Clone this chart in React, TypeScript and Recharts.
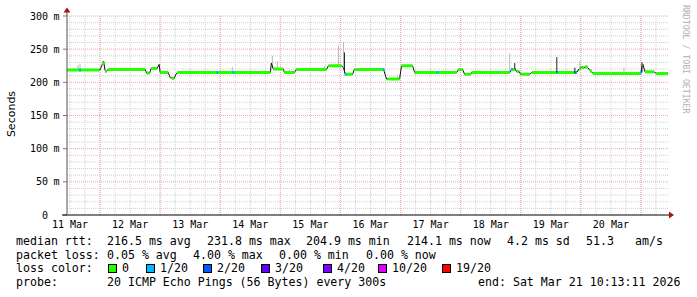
import React from 'react';
import { ComposedChart, Line, XAxis, YAxis, CartesianGrid } from 'recharts';

const MONO = '"DejaVu Sans Mono", monospace';

// time axis: hours since 11 Mar 00:00
const T_START = 10.8;
const T_END = 250.8;

const X_TICKS = [12, 36, 60, 84, 108, 132, 156, 180, 204, 228];
const X_TICK_LABELS = ['11 Mar', '12 Mar', '13 Mar', '14 Mar', '15 Mar', '16 Mar', '17 Mar', '18 Mar', '19 Mar', '20 Mar'];
const Y_TICKS = [0, 50, 100, 150, 200, 250, 300];
const Y_TICK_LABELS = ['0', '50', '100', '150', '200', '250', '300'];

const MINOR_T = [12, 18, 24, 30, 36, 42, 48, 54, 60, 66, 72, 78, 84, 90, 96, 102, 108, 114, 120, 126, 132, 138, 144, 150, 156, 162, 168, 174, 180, 186, 192, 198, 204, 210, 216, 222, 228, 234, 240, 246];
const MAJOR_T = [24, 48, 72, 96, 120, 144, 168, 192, 216, 240];
const MINOR_MS = [10, 20, 30, 40, 60, 70, 80, 90, 110, 120, 130, 140, 160, 170, 180, 190, 210, 220, 230, 240, 260, 270, 280, 290];
const MAJOR_MS = [50, 100, 150, 200, 250, 300];

// median rtt (ms) - thin dark line
const MEDIAN_T = [10.8, 23.6, 24.0, 24.8, 25.4, 26.0, 26.4, 27.2, 42.0, 42.6, 43.8, 44.4, 46.8, 47.6, 48.0, 51.2, 52.0, 53.6, 54.4, 55.2, 92.0, 92.4, 93.2, 97.2, 97.6, 101.6, 102.4, 114.4, 115.2, 120.4, 121.2, 122.0, 124.8, 125.6, 137.2, 138.4, 143.6, 144.4, 148.8, 149.6, 166.4, 167.2, 168.8, 169.6, 172.0, 172.4, 187.6, 188.4, 189.6, 190.4, 191.2, 192.0, 195.6, 196.4, 214.4, 215.2, 216.4, 217.2, 218.0, 218.8, 219.6, 220.8, 240.0, 240.4, 240.8, 241.6, 245.2, 246.0, 250.8];
const MEDIAN_MS = [218.5, 218.5, 219, 226, 232, 218, 216, 219.5, 219.5, 214, 214, 221, 221, 227, 215, 215, 207, 206, 213, 215, 215, 229, 220, 220, 215, 215, 219.5, 219.5, 225, 225, 222, 212, 212, 219.5, 219.5, 205, 205, 225, 225, 215, 215, 219.5, 219, 212, 212, 215, 215, 219.5, 221, 216, 217, 212, 212, 215, 215, 220, 223, 221, 225, 222, 218, 214, 214, 224, 227, 216, 216, 213.5, 213.5];

// plateaus of the loss-coloured median: [from, to, ms]
const GREEN_SEGMENTS: [number, number, number][] = [
  [10.8, 23.6, 218.5], [24.8, 25.8, 229], [26.0, 26.6, 216.5], [27.2, 42.0, 219.5], [42.6, 43.8, 214],
  [44.4, 46.8, 221], [48.0, 51.2, 215], [52.6, 53.6, 206], [54.8, 92.0, 215], [93.2, 97.2, 220],
  [97.6, 101.6, 215], [102.4, 114.4, 219.5], [115.2, 120.4, 225], [122.0, 124.8, 212], [125.6, 137.2, 219.5],
  [138.8, 143.6, 205], [144.4, 148.8, 225], [149.6, 166.4, 215], [167.2, 168.8, 219.5], [169.6, 172.0, 212],
  [172.4, 187.6, 215], [188.4, 189.6, 219.5], [190.4, 191.2, 216.5], [192.0, 195.6, 212], [196.4, 214.4, 215],
  [215.2, 216.0, 220], [216.4, 217.2, 222.5], [217.6, 218.8, 223], [219.6, 220.4, 217], [220.8, 240.0, 213.5],
  [240.4, 240.8, 226], [241.6, 245.2, 216], [246.0, 250.8, 213.5],
];
const LOSS1_SEGMENTS: [number, number, number][] = [
  [15.6, 16.4, 218.5], [70.4, 71.2, 215], [76.8, 77.6, 215], [121.6, 122.4, 212], [136.8, 137.6, 219.5],
  [158.4, 159.2, 215], [188.0, 188.8, 219.5], [206.0, 206.8, 215], [213.6, 214.4, 215], [239.6, 240.2, 214],
];
// smoke spikes: [time, low, high]
const SMOKE_SPIKES: [number, number, number][] = [
  [15.2, 219, 226], [16.0, 219, 228], [76.8, 215, 223], [92.8, 221, 240], [94.8, 221, 232], [99.6, 215, 219],
  [113.6, 220, 224], [119.2, 225, 255], [121.2, 222, 261], [142.8, 205, 211], [187.6, 215, 244],
  [215.6, 220, 232], [233.2, 214, 222],
];
const DARK_SPIKES: [number, number, number][] = [
  [121.6, 214, 245], [189.6, 220, 229], [206.4, 215, 238], [213.6, 213, 222], [240.4, 215, 230],
];

const LOSS_COLORS = ['#26ff00', '#00b8ff', '#0059ff', '#5e00ff', '#7e00ff', '#dd00ff', '#ff0000'];
const LOSS_LABELS = ['0', '1/20', '2/20', '3/20', '4/20', '10/20', '19/20'];
const LOSS_BOX_X = [108, 146, 203, 261, 323, 378, 442];

const ROW1: [number, string][] = [
  [16, 'median rtt:'], [107, '216.5 ms avg'], [207, '231.8 ms max'], [306, '204.9 ms min'],
  [407, '214.1 ms now'], [507, '4.2 ms sd'], [586, '51.3'], [635, 'am/s'],
];
const ROW2: [number, string][] = [
  [16, 'packet loss:'], [107, '0.05 % avg'], [193, '4.00 % max'], [279, '0.00 % min'], [366, '0.00 % now'],
];
const ROW4: [number, string][] = [
  [16, 'probe:'], [107, '20 ICMP Echo Pings (56 Bytes) every 300s'], [478, 'end: Sat Mar 21 10:13:11 2026'],
];

const medianData = MEDIAN_T.map((t, i) => ({ t, v: MEDIAN_MS[i] }));
const segData = (segs: [number, number, number][]) =>
  segs.flatMap(([a, b, v]) => [{ t: a, v }, { t: b, v }, { t: b, v: null as number | null }]);
const spikeData = (sp: [number, number, number][]) =>
  sp.flatMap(([t, lo, hi]) => [{ t, v: lo }, { t, v: hi }, { t, v: null as number | null }]);

const XTick = (props: any) => {
  const { x, y, payload } = props;
  const label = X_TICK_LABELS[X_TICKS.indexOf(payload.value)];
  return (
    <text x={x} y={y + 13} textAnchor="middle" fontFamily={MONO} fontSize={10} fill="#000">
      {label}
    </text>
  );
};

const YTick = (props: any) => {
  const { x, y, payload } = props;
  const label = Y_TICK_LABELS[Y_TICKS.indexOf(payload.value)];
  return (
    <g>
      <text x={x - 15} y={y + 3.6} textAnchor="end" fontFamily={MONO} fontSize={10} fill="#000">
        {label}
      </text>
      {payload.value !== 0 && (
        <text x={x - 9.5} y={y + 3.6} textAnchor="start" fontFamily={MONO} fontSize={10} fill="#000">
          m
        </text>
      )}
    </g>
  );
};

const txt = (x: number, y: number, s: string, key: string) => (
  <text key={key} x={x} y={y} fontFamily={MONO} fontSize={11.6} fill="#000">
    {s}
  </text>
);

export default function App() {
  return (
    <div style={{ position: 'absolute', left: 0, top: 0, width: 697, height: 297, background: '#fff' }}>
      <ComposedChart width={697} height={297} margin={{ top: 16, right: 29, bottom: 62, left: 0 }}>
        <CartesianGrid horizontalValues={MINOR_MS} verticalValues={MINOR_T} stroke="#cfcfcf" strokeDasharray="1 1" />
        <CartesianGrid horizontalValues={MAJOR_MS} verticalValues={MAJOR_T} stroke="#eea4a4" strokeDasharray="1 1" />
        <XAxis
          type="number"
          dataKey="t"
          domain={[T_START, T_END]}
          ticks={X_TICKS}
          interval={0}
          allowDataOverflow
          height={20}
          tickSize={0}
          tickMargin={0}
          tick={<XTick />}
          axisLine={{ stroke: '#000' }}
        />
        <YAxis
          type="number"
          domain={[0, 300]}
          ticks={Y_TICKS}
          interval={0}
          allowDataOverflow
          width={67}
          tickSize={4}
          tickMargin={0}
          tick={<YTick />}
          tickLine={{ stroke: '#777' }}
          axisLine={{ stroke: '#555' }}
        />
        <Line data={spikeData(SMOKE_SPIKES)} dataKey="v" stroke="#b8b8b8" strokeWidth={1} dot={false} activeDot={false} isAnimationActive={false} />
        <Line data={medianData} dataKey="v" stroke="#111" strokeWidth={1} dot={false} activeDot={false} isAnimationActive={false} />
        <Line data={segData(GREEN_SEGMENTS)} dataKey="v" stroke={LOSS_COLORS[0]} strokeWidth={3} dot={false} activeDot={false} isAnimationActive={false} />
        <Line data={segData(LOSS1_SEGMENTS)} dataKey="v" stroke={LOSS_COLORS[1]} strokeWidth={3} dot={false} activeDot={false} isAnimationActive={false} />
        <Line data={spikeData(DARK_SPIKES)} dataKey="v" stroke="#222" strokeWidth={1} dot={false} activeDot={false} isAnimationActive={false} />
      </ComposedChart>
      <svg width={697} height={297} style={{ position: 'absolute', left: 0, top: 0, pointerEvents: 'none' }}>
        <line x1={67} y1={11} x2={67} y2={16} stroke="#555" />
        <polygon points="63.5,12.5 70.5,12.5 67,7.5" fill="#a01818" />
        <line x1={62} y1={215} x2={67} y2={215} stroke="#000" />
        <line x1={668} y1={215} x2={670} y2={215} stroke="#000" />
        <polygon points="669,211.5 669,218.5 674,215" fill="#a01818" />
        <text x={15} y={114} transform="rotate(-90 15 114)" textAnchor="middle" fontFamily='"DejaVu Sans", sans-serif' fontSize={11} fill="#000">
          Seconds
        </text>
        <text x={683} y={5} transform="rotate(90 683 5)" fontFamily={MONO} fontSize={8.2} fill="#b0b0b0">
          RRDTOOL / TOBI OETIKER
        </text>
        {ROW1.map(([x, s], i) => txt(x, 245, s, 'r1' + i))}
        {ROW2.map(([x, s], i) => txt(x, 258.7, s, 'r2' + i))}
        {txt(16, 272.3, 'loss color:', 'r3')}
        {LOSS_LABELS.map((l, i) => (
          <g key={'lg' + i}>
            <rect x={LOSS_BOX_X[i] + 0.5} y={264.5} width={8} height={8} fill={LOSS_COLORS[i]} stroke="#000" strokeWidth={1} />
            {txt(LOSS_BOX_X[i] + 14, 272.3, l, 'lt' + i)}
          </g>
        ))}
        {ROW4.map(([x, s], i) => txt(x, 286, s, 'r4' + i))}
      </svg>
    </div>
  );
}
